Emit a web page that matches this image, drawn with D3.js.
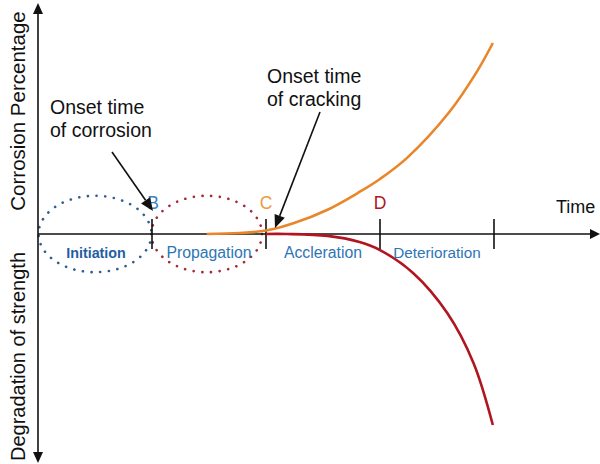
<!DOCTYPE html>
<html><head><meta charset="utf-8">
<script src="https://cdn.jsdelivr.net/npm/d3@7"></script>
<style>body{margin:0;background:#fff}svg{display:block;font-family:"Liberation Sans",Arial,sans-serif}</style>
</head><body><svg id="c" width="600" height="464"></svg>
<script>
// time in stage units (0 = origin, 1 = B, 2 = C, 3 = D, 4 = end of deterioration)
const stageTicks = [1, 2, 3, 4];
const stageNames = ["Initiation", "Propagation", "Accleration", "Deterioration"];
const pointLabels = ["B", "C", "D"];
// corrosion percentage (upward, relative 0..100)
const corrosionT = [1.48, 1.77, 2.0, 2.24, 2.54, 2.82, 3.0, 3.24, 3.61, 3.85, 3.99];
const corrosionV = [0, 0.5, 1.8, 5.6, 12.7, 22, 28.8, 40, 64, 85, 100];
// degradation of strength (downward, relative 0..-100)
const strengthT = [2.0, 2.18, 2.54, 2.82, 3.0, 3.29, 3.59, 3.82, 3.99];
const strengthV = [0, 0, -1, -4.2, -8.4, -20.4, -41.4, -67.5, -100];

const svg = d3.select("#c");
const x = d3.scaleLinear().domain([0, 4]).range([38, 494]);
const y = d3.scaleLinear().domain([-100, 100]).range([425, 43]);
const y0 = y(0);

// dotted ellipses
const ell = [
  {t: 0.5, rt: 0.495, ry: 20, c: "#2f5d8c"},
  {t: 1.48, rt: 0.485, ry: 20, c: "#a32a3a"}
];
svg.selectAll("ellipse.st").data(ell).join("ellipse")
  .attr("cx", d => x(d.t)).attr("cy", y0)
  .attr("rx", d => x(d.rt) - x(0)).attr("ry", d => y(0) - y(d.ry))
  .attr("fill", "none").attr("stroke", d => d.c).attr("stroke-width", 2.6)
  .attr("stroke-dasharray", "0.1 8.6").attr("stroke-linecap", "round");

// axes
const axisColor = "#111";
svg.append("line").attr("x1", x(0)).attr("x2", 592).attr("y1", y0).attr("y2", y0)
  .attr("stroke", axisColor).attr("stroke-width", 1.6);
svg.append("path").attr("d", `M600,${y0} L590,${y0-5} L590,${y0+5}Z`).attr("fill", axisColor);
svg.append("line").attr("x1", x(0)).attr("x2", x(0)).attr("y1", 12).attr("y2", 454)
  .attr("stroke", axisColor).attr("stroke-width", 1.6);
svg.append("path").attr("d", `M${x(0)},3 L${x(0)-5},14 L${x(0)+5},14Z`).attr("fill", axisColor);
svg.append("path").attr("d", `M${x(0)},463 L${x(0)-5},452 L${x(0)+5},452Z`).attr("fill", axisColor);

// ticks
svg.selectAll("line.tk").data(stageTicks).join("line")
  .attr("x1", d => x(d)).attr("x2", d => x(d))
  .attr("y1", y0 - 15).attr("y2", y0 + 15)
  .attr("stroke", axisColor).attr("stroke-width", 1.6);

// curves
const line = d3.line().curve(d3.curveCatmullRom.alpha(0.5));
svg.append("path")
  .attr("d", line(strengthT.map((t, i) => [x(t), y(strengthV[i])])))
  .attr("fill", "none").attr("stroke", "#b01520").attr("stroke-width", 2.6);
svg.append("path")
  .attr("d", line(corrosionT.map((t, i) => [x(t), y(corrosionV[i])])))
  .attr("fill", "none").attr("stroke", "#e8862a").attr("stroke-width", 2.6);

// stage names
const nameStyle = [
  {c: "#1f5ea3", w: "bold", s: 14.3},
  {c: "#2e75b6", w: "normal", s: 15.8},
  {c: "#2e75b6", w: "normal", s: 15.8},
  {c: "#2e75b6", w: "normal", s: 15.3}
];
svg.selectAll("text.nm").data(stageNames).join("text")
  .attr("x", (d, i) => x(i + 0.5) + (i === 0 ? 1 : 0)).attr("y", 258)
  .attr("text-anchor", "middle")
  .attr("fill", (d, i) => nameStyle[i].c).attr("font-weight", (d, i) => nameStyle[i].w)
  .attr("font-size", (d, i) => nameStyle[i].s).text(d => d);

// point labels
const plColors = ["#3a84c6", "#ec9a3e", "#b01520"];
svg.selectAll("text.pl").data(pointLabels).join("text")
  .attr("x", (d, i) => x(i + 1) + (i === 0 ? 1 : 0)).attr("y", 209)
  .attr("text-anchor", "middle").attr("font-size", 17.5)
  .attr("fill", (d, i) => plColors[i]).text(d => d);

// axis titles
svg.append("text").attr("transform", `translate(25,${(10 + 212) / 2}) rotate(-90)`)
  .attr("text-anchor", "middle").attr("font-size", 20.5).attr("fill", "#111")
  .text("Corrosion Percentage");
svg.append("text").attr("transform", `translate(25,${(257 + 456) / 2}) rotate(-90)`)
  .attr("text-anchor", "middle").attr("font-size", 20).attr("fill", "#111")
  .text("Degradation of strength");
svg.append("text").attr("x", 556).attr("y", 213).attr("font-size", 18).attr("fill", "#111").text("Time");

// annotations
function annot(lines, tx, ty, a, b) {
  const t = svg.append("text").attr("font-size", 19.5).attr("fill", "#111");
  lines.forEach((l, i) => t.append("tspan").attr("x", tx).attr("y", ty + i * 23).text(l));
  const ang = Math.atan2(b[1] - a[1], b[0] - a[0]);
  const hl = 13, hw = 5.5;
  const bx = b[0] - hl * Math.cos(ang), by = b[1] - hl * Math.sin(ang);
  svg.append("line").attr("x1", a[0]).attr("y1", a[1]).attr("x2", bx).attr("y2", by)
    .attr("stroke", "#111").attr("stroke-width", 1.6);
  svg.append("path").attr("d",
    `M${b[0]},${b[1]} L${bx + hw * Math.sin(ang)},${by - hw * Math.cos(ang)} L${bx - hw * Math.sin(ang)},${by + hw * Math.cos(ang)}Z`)
    .attr("fill", "#111");
}
annot(["Onset time", "of corrosion"], 50, 114, [112, 152], [x(1) + 1, 211]);
annot(["Onset time", "of cracking"], 267, 83, [320, 112], [275, 228]);
</script></body></html>
